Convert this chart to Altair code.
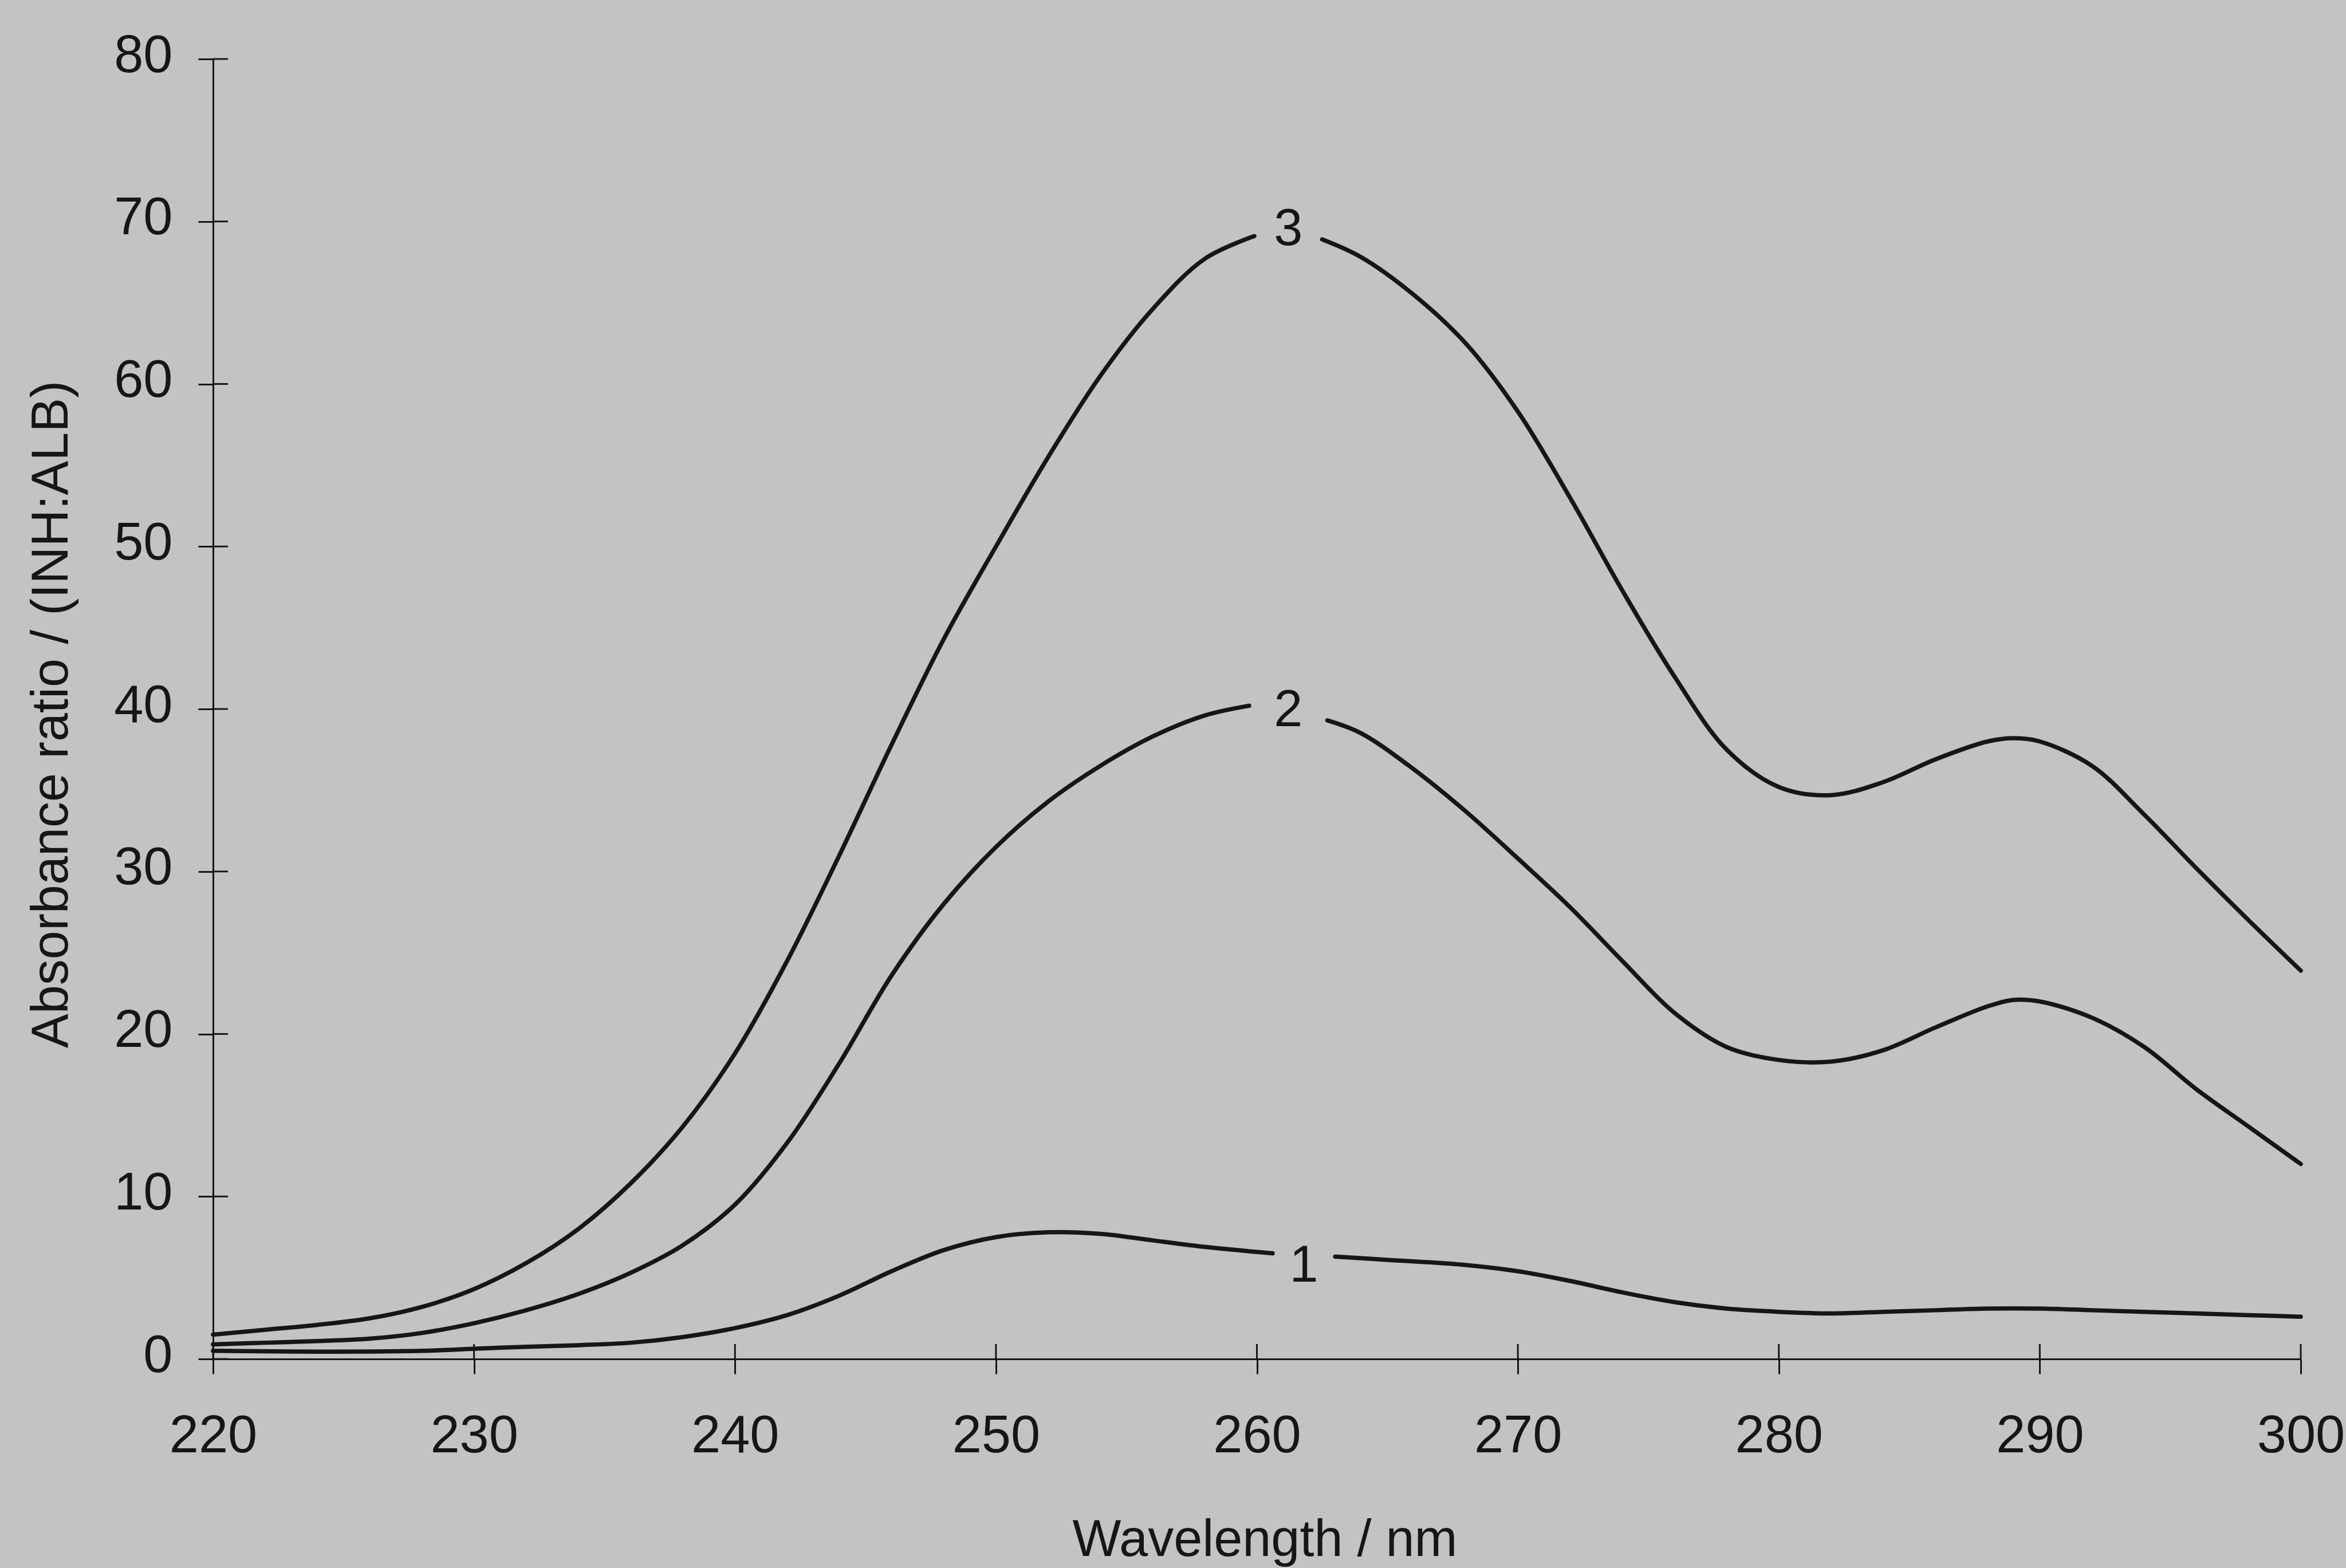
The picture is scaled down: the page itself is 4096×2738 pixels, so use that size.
import altair as alt
import pandas as pd

# Absorbance ratio spectra, each curve split where its number label sits
c1a_nm = [220, 224, 228, 231, 234, 236, 238, 240, 242, 244, 246, 248, 250, 252, 254, 256, 258, 260.6]
c1a_val = [0.5, 0.45, 0.5, 0.7, 0.85, 1.0, 1.35, 1.9, 2.7, 3.9, 5.4, 6.7, 7.5, 7.8, 7.7, 7.3, 6.9, 6.5]
c1b_nm = [263, 265, 267.9, 270, 272, 274, 276, 278, 280, 282, 284, 286, 288, 290, 292, 294, 296, 298, 300]
c1b_val = [6.3, 6.1, 5.8, 5.4, 4.8, 4.1, 3.5, 3.1, 2.9, 2.8, 2.9, 3.0, 3.1, 3.1, 3.0, 2.9, 2.8, 2.7, 2.6]

c2a_nm = [220, 222, 224, 226, 228, 230, 232, 234, 236, 238, 240, 242, 244, 246, 248, 250, 252, 254, 256, 258, 259.7]
c2a_val = [0.9, 1.0, 1.1, 1.25, 1.6, 2.2, 3.0, 4.0, 5.3, 7.0, 9.5, 13.3, 18.2, 23.6, 28.0, 31.5, 34.3, 36.5, 38.3, 39.6, 40.2]
c2b_nm = [262.7, 264, 266, 268, 270, 272, 274, 276, 278, 280, 282, 284, 286, 288, 289, 290, 292, 294, 296, 298, 300]
c2b_val = [39.3, 38.5, 36.3, 33.7, 30.8, 27.8, 24.5, 21.3, 19.2, 18.4, 18.3, 19.0, 20.4, 21.7, 22.1, 22.0, 21.0, 19.2, 16.6, 14.3, 12.0]

c3a_nm = [220, 222, 224, 226, 228, 230, 232, 234, 236, 238, 240, 242, 244, 246, 248, 250, 252, 254, 256, 258, 259.9]
c3a_val = [1.5, 1.8, 2.1, 2.5, 3.2, 4.3, 5.9, 8.0, 10.8, 14.3, 18.8, 24.5, 31.0, 37.8, 44.3, 50.0, 55.5, 60.5, 64.6, 67.7, 69.1]
c3b_nm = [262.5, 264, 266, 268, 270, 272, 274, 276, 278, 280, 282, 284, 286, 288, 289, 290, 292, 294, 296, 298, 300]
c3b_val = [68.9, 67.8, 65.5, 62.5, 58.3, 53.0, 47.3, 42.0, 37.5, 35.2, 34.7, 35.5, 36.9, 38.0, 38.2, 38.0, 36.5, 33.5, 30.2, 27.0, 23.9]

# Curve numbers placed in the gaps
label_text = ["1", "2", "3"]
label_nm = [261.8, 261.2, 261.2]
label_val = [5.7, 39.9, 69.5]

x_ticks = [220, 230, 240, 250, 260, 270, 280, 290, 300]
y_ticks = [0, 10, 20, 30, 40, 50, 60, 70, 80]

INK = "#161616"
PAPER = "#c3c3c3"
FONT = "Liberation Sans"
W, H = 3645, 2270
TICK = 26

segments = [
    ("1a", c1a_nm, c1a_val), ("1b", c1b_nm, c1b_val),
    ("2a", c2a_nm, c2a_val), ("2b", c2b_nm, c2b_val),
    ("3a", c3a_nm, c3a_val), ("3b", c3b_nm, c3b_val),
]
rows = []
for seg, xs, ys in segments:
    for a, b in zip(xs, ys):
        rows.append({"nm": a, "val": b, "seg": seg})
curves = pd.DataFrame(rows)
labels = pd.DataFrame({"nm": label_nm, "val": label_val, "txt": label_text})
xt = pd.DataFrame({"nm": x_ticks})
yt = pd.DataFrame({"val": y_ticks})

x_scale = alt.Scale(domain=[220, 300], nice=False, zero=False)
y_scale = alt.Scale(domain=[0, 80], nice=False)

x_axis = alt.Axis(
    title="Wavelength / nm", values=x_ticks, format="d",
    labelBaseline="top", labelPadding=63,
    titleX=1836, titleY=343, titleBaseline="alphabetic", titleAlign="center",
)
y_axis = alt.Axis(
    title="Absorbance ratio / (INH:ALB)", values=y_ticks, format="d",
    labelPadding=45, labelOffset=-6,
    titleAngle=270, titleX=-255, titleY=1144,
    titleBaseline="alphabetic", titleAlign="center",
)

def xe(field="nm"):
    return alt.X(f"{field}:Q", scale=x_scale, axis=x_axis)

def ye(field="val"):
    return alt.Y(f"{field}:Q", scale=y_scale, axis=y_axis)

lines = alt.Chart(curves).mark_line(
    color=INK, strokeWidth=7.5, interpolate="catmull-rom", strokeCap="round"
).encode(x=xe(), y=ye(), detail="seg:N")

nums = alt.Chart(labels).mark_text(
    font=FONT, fontSize=90, color=INK, align="center", baseline="middle"
).encode(x=xe(), y=ye(), text="txt:N")

# inner halves of the cross ticks
x_inner = alt.Chart(xt).mark_rule(color=INK, strokeWidth=3).encode(
    x=xe(), y=alt.value(H - TICK), y2=alt.value(H)
)
y_inner = alt.Chart(yt).mark_rule(color=INK, strokeWidth=3).encode(
    y=ye(), x=alt.value(0), x2=alt.value(TICK)
)

chart = (
    alt.layer(x_inner, y_inner, lines, nums)
    .properties(
        width=W, height=H,
        autosize=alt.AutoSizeParams(type="none"),
        padding={"left": 372, "top": 103, "right": 79, "bottom": 365},
        background=PAPER,
    )
    .configure_view(stroke=None)
    .configure_axis(
        grid=False,
        domainColor=INK, domainWidth=3,
        tickColor=INK, tickWidth=3, tickSize=TICK,
        labelFont=FONT, labelFontSize=92, labelColor=INK,
        titleFont=FONT, titleFontSize=90, titleColor=INK, titleFontWeight="normal",
        labelFlush=False, labelOverlap=False,
    )
)

chart.save("out.html", embed_options={"renderer": "svg", "actions": False})
